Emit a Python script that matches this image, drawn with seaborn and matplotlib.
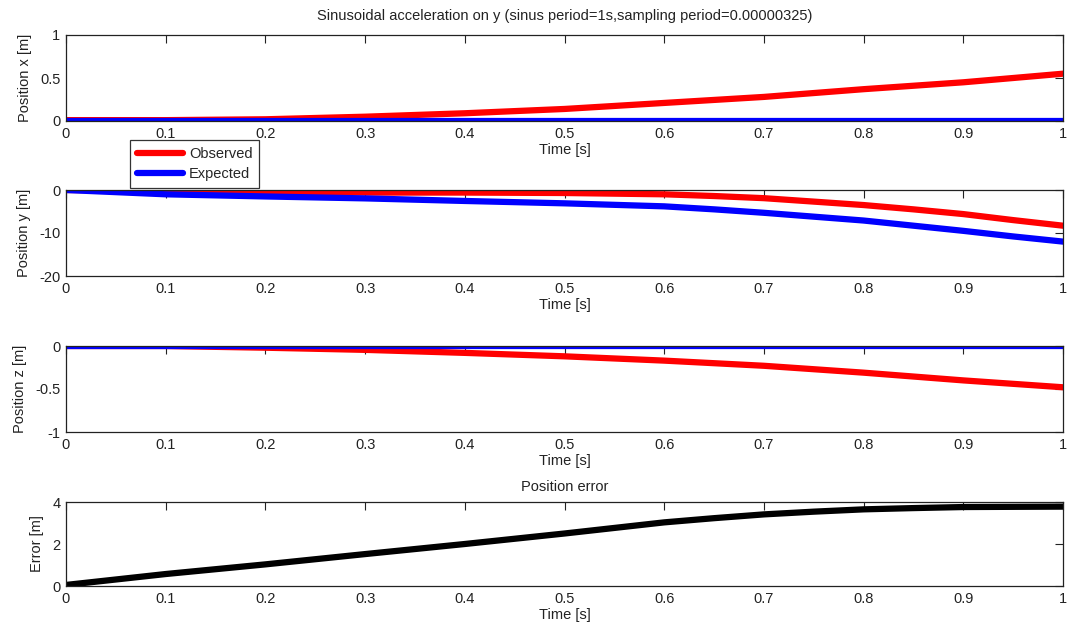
import numpy as np
import pandas as pd
import matplotlib
matplotlib.use("Agg")
import matplotlib.pyplot as plt
import seaborn as sns

# ---- data ----
time = [0.0, 0.1, 0.2, 0.3, 0.4, 0.5, 0.6, 0.65, 0.7, 0.75, 0.8, 0.85, 0.9, 0.95, 1.0]
x_observed = [0.01, 0.01, 0.02, 0.05, 0.09, 0.14, 0.21, 0.245, 0.28, 0.325, 0.37, 0.41, 0.45, 0.50, 0.55]
x_expected = [0.0] * 15
y_observed = [0.0, -0.2, -0.4, -0.6, -0.6, -0.7, -1.0, -1.4, -1.9, -2.7, -3.5, -4.5, -5.6, -7.0, -8.3]
y_expected = [0.0, -1.0, -1.5, -1.95, -2.55, -3.1, -3.8, -4.5, -5.3, -6.2, -7.1, -8.3, -9.5, -10.8, -12.0]
z_observed = [0.0, 0.0, -0.02, -0.045, -0.08, -0.12, -0.17, -0.20, -0.23, -0.27, -0.31, -0.355, -0.40, -0.44, -0.48]
z_expected = [0.0] * 15
error = [0.05, 0.57, 1.03, 1.52, 2.0, 2.5, 3.03, 3.23, 3.41, 3.54, 3.65, 3.71, 3.76, 3.77, 3.78]

xticks = [0, 0.1, 0.2, 0.3, 0.4, 0.5, 0.6, 0.7, 0.8, 0.9, 1]
xticklabels = ["0", "0.1", "0.2", "0.3", "0.4", "0.5", "0.6", "0.7", "0.8", "0.9", "1"]
title_main = "Sinusoidal acceleration on y (sinus period=1s,sampling period=0.00000325)"
title_err = "Position error"

sns.set_style("white")
plt.rcParams["font.family"] = ["Liberation Sans", "DejaVu Sans"]
plt.rcParams["font.size"] = 10.5

fig = plt.figure(figsize=(10.68, 6.31), dpi=100)
left, width = 66 / 1068, (1063 - 66) / 1068
H = 631
specs = [
    (121, 86, (0, 1), [0, 0.5, 1], ["0", "0.5", "1"], "Position x [m]"),
    (276, 86, (-20, 0), [-20, -10, 0], ["-20", "-10", "0"], "Position y [m]"),
    (432, 86, (-1, 0), [-1, -0.5, 0], ["-1", "-0.5", "0"], "Position z [m]"),
    (586, 84, (0, 4), [0, 2, 4], ["0", "2", "4"], "Error [m]"),
]
axes = []
for bottom_px, h_px, ylim, yt, ytl, ylab in specs:
    ax = fig.add_axes([left, 1 - bottom_px / H, width, h_px / H])
    axes.append(ax)

series = [(x_observed, x_expected), (y_observed, y_expected), (z_observed, z_expected)]
for ax, (obs, exp) in zip(axes[:3], series):
    df = pd.DataFrame({"t": time, "Observed": obs, "Expected": exp})
    sns.lineplot(data=df, x="t", y="Observed", ax=ax, color="#ff0000", lw=4.5, label="Observed", legend=False)
    sns.lineplot(data=df, x="t", y="Expected", ax=ax, color="#0000ff", lw=4.5, label="Expected", legend=False)

df_e = pd.DataFrame({"t": time, "err": error})
sns.lineplot(data=df_e, x="t", y="err", ax=axes[3], color="black", lw=4.5, legend=False)

for ax, (bottom_px, h_px, ylim, yt, ytl, ylab) in zip(axes, specs):
    ax.set_xlim(0, 1)
    ax.set_ylim(*ylim)
    ax.set_xticks(xticks)
    ax.set_xticklabels(xticklabels)
    ax.set_yticks(yt)
    ax.set_yticklabels(ytl)
    ax.set_xlabel("Time [s]", fontsize=10.5, labelpad=2, color="#222222")
    ax.set_ylabel(ylab, fontsize=10.5, labelpad=6, color="#222222")
    ax.tick_params(direction="in", top=True, right=True, length=6, width=0.8,
                   labelsize=10.5, pad=4, colors="#222222")
    for s in ax.spines.values():
        s.set_visible(True)
        s.set_color("#222222")
        s.set_linewidth(0.9)
    ax.grid(False)

axes[0].set_title(title_main, fontsize=10.5, pad=11, color="#222222")
axes[3].set_title(title_err, fontsize=10.5, pad=8, color="#222222")

handles, labels = axes[0].get_legend_handles_labels()
leg = fig.legend(handles, labels, loc="lower left",
                 bbox_to_anchor=(130 / 1068, 1 - 188 / 631), frameon=True,
                 fancybox=False, edgecolor="black", fontsize=10.5,
                 handlelength=3.2, borderpad=0.45, labelspacing=0.45,
                 handletextpad=0.4, borderaxespad=0)
leg.get_frame().set_linewidth(0.9)

fig.savefig("out.png", dpi=100, facecolor="white")
